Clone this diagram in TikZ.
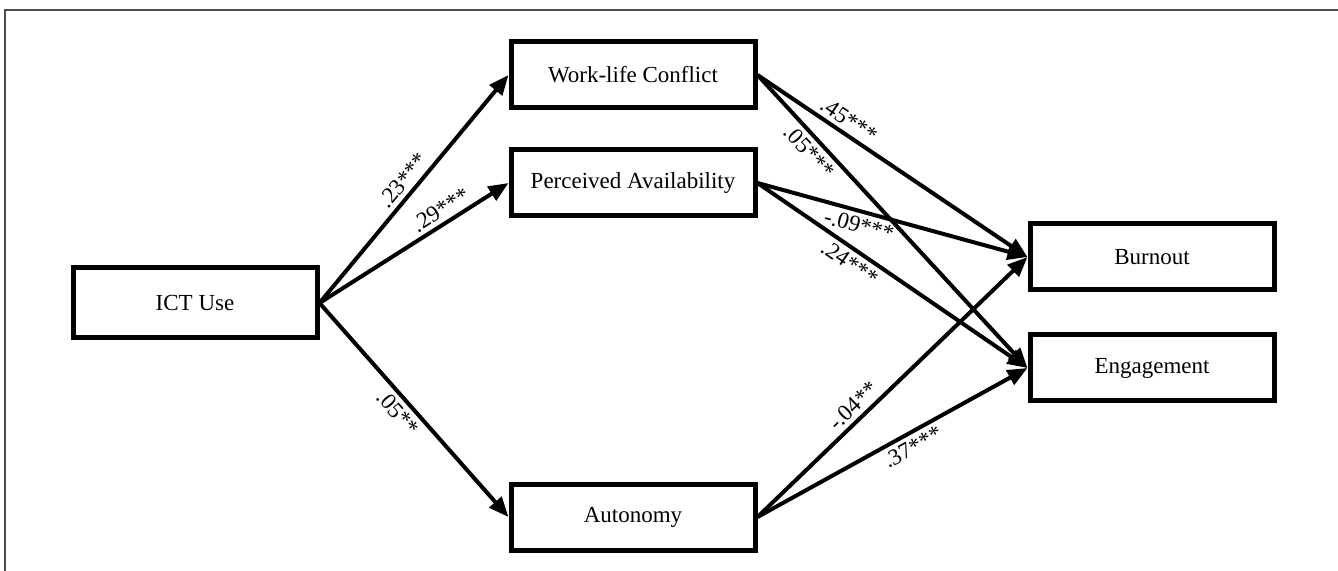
\documentclass[tikz,border=0pt]{standalone}
\usepackage{fontspec}
\setmainfont{Liberation Serif}
\usetikzlibrary{arrows.meta}

\begin{document}
\begin{tikzpicture}[x=0.5pt,y=-0.5pt,
    var/.style={draw,line width=2.5pt,minimum width=122pt,minimum height=33pt,
      font=\fontsize{11.5}{13}\selectfont},
    effect/.style={line width=2pt,-{Triangle[length=10pt,width=8pt]}},
    coef/.style={font=\fontsize{11.5}{13}\selectfont,sloped,inner sep=2pt}]
    \useasboundingbox (0,0) rectangle (1338,571);
    \draw[line width=1pt,black!70] (1338,10) -- (5,10) -- (5,571);
    % variables
    \node[var,minimum height=35pt] (ict) at (195,303) {ICT Use};
    \node[var] (wlc) at (633,75) {Work-life Conflict};
    \node[var] (pa) at (633,183) {Perceived Availability};
    \node[var] (aut) at (633,517) {Autonomy};
    \node[var] (bur) at (1152,257) {Burnout};
    \node[var] (eng) at (1152,368) {Engagement};
    % paths with coefficients
    \foreach \a/\b/\p/\anc/\lab in {ict/wlc/0.5/south/.23***,
        ict/pa/0.68/south/.29***, ict/aut/0.47/north/.05**,
        wlc/bur/0.31/south/.45***, wlc/eng/0.23/north/.05***,
        pa/bur/0.39/north/-.09***, pa/eng/0.37/north/.24***,
        aut/bur/0.39/south/-.04**, aut/eng/0.55/north/.37***}{
        \draw[effect] (\a.east) -- node[coef,pos=\p,anchor=\anc]{\lab} (\b.west);
    }
\end{tikzpicture}
\end{document}
